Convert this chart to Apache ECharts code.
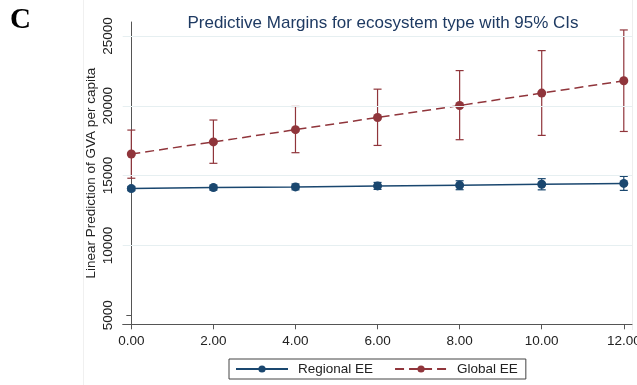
<!DOCTYPE html>
<html>
<head>
<meta charset="utf-8">
<script src="https://cdn.jsdelivr.net/npm/echarts@6/dist/echarts.min.js"></script>
<style>
html,body{margin:0;padding:0;background:#fff;}
#chart{width:637px;height:385px;}
</style>
</head>
<body>
<div id="chart"></div>
<script>
// ---- data ----
const xValues = [0, 2, 4, 6, 8, 10, 12];
const regionalEE = [14070, 14140, 14190, 14260, 14310, 14380, 14440];
const regionalLo = [13920, 13960, 13980, 14010, 13990, 13980, 13940];
const regionalHi = [14220, 14320, 14400, 14510, 14630, 14780, 14940];
const globalEE = [16550, 17410, 18290, 19160, 20020, 20910, 21790];
const globalLo = [14810, 15880, 16640, 17160, 17570, 17880, 18160];
const globalHi = [18260, 18980, 19950, 21190, 22520, 23950, 25430];
const xTicks = [0, 2, 4, 6, 8, 10, 12];
const yTicks = [5000, 10000, 15000, 20000, 25000];
const yGrid = [10000, 15000, 20000, 25000];

const BLUE = '#1a476f';
const RED = '#90353b';
const FONT = '"Liberation Sans", Arial, sans-serif';

function pairs(xs, ys) { return xs.map((x, i) => [x, ys[i]]); }
function ciData(xs, lo, hi) { return xs.map((x, i) => [x, lo[i], hi[i]]); }

function errRender(color) {
  return function (params, api) {
    const x = api.value(0);
    const p1 = api.coord([x, api.value(1)]);
    const p2 = api.coord([x, api.value(2)]);
    const hw = 4;
    const style = { stroke: color, lineWidth: 1.2, fill: null };
    return {
      type: 'group',
      children: [
        { type: 'line', shape: { x1: p1[0], y1: p1[1], x2: p2[0], y2: p2[1] }, style: style },
        { type: 'line', shape: { x1: p1[0] - hw, y1: p1[1], x2: p1[0] + hw, y2: p1[1] }, style: style },
        { type: 'line', shape: { x1: p2[0] - hw, y1: p2[1], x2: p2[0] + hw, y2: p2[1] }, style: style }
      ]
    };
  };
}

const chart = echarts.init(document.getElementById('chart'), null, { renderer: 'canvas' });
chart.setOption({
  animation: false,
  backgroundColor: '#ffffff',
  textStyle: { fontFamily: FONT },
  title: {
    text: 'Predictive Margins for ecosystem type with 95% CIs',
    left: 378, top: 10, textAlign: 'center',
    textStyle: { fontFamily: FONT, fontSize: 17, fontWeight: 'normal', color: '#1e3a62' }
  },
  graphic: [
    { type: 'text', left: 10, top: 6, style: { text: 'C', font: 'bold 29px "Liberation Serif", "Times New Roman", serif', fill: '#000' } },
    { type: 'line', shape: { x1: 83.5, y1: 0, x2: 83.5, y2: 385 }, style: { stroke: '#f0f0f0', lineWidth: 1 } },
    { type: 'line', shape: { x1: 632.5, y1: 0, x2: 632.5, y2: 330 }, style: { stroke: '#eeeeee', lineWidth: 1 } }
  ],
  grid: { left: 122.7, right: 5, top: 22, bottom: 60.7, containLabel: false, outerBoundsMode: 'none' },
  legend: {
    left: 229, top: 359,
    padding: [3, 8, 3, 6],
    borderColor: '#444', borderWidth: 1, borderRadius: 0,
    itemWidth: 52, itemHeight: 9, itemGap: 21,
    textStyle: { fontFamily: FONT, fontSize: 13.5, color: '#222', padding: [0, 0, 0, 5] },
    data: ['Regional EE', 'Global EE']
  },
  xAxis: {
    type: 'value', min: -0.21, max: 12.2,
    axisLine: { show: true, lineStyle: { color: '#555', width: 1 } },
    axisTick: { show: true, length: 5, customValues: xTicks, lineStyle: { color: '#555' } },
    axisLabel: { customValues: xTicks, margin: 10, fontSize: 13.5, color: '#222', fontFamily: FONT,
      hideOverlap: false, formatter: v => Number(v).toFixed(2) },
    splitLine: { show: false }
  },
  yAxis: {
    type: 'value', min: 4350, max: 26000,
    name: 'Linear Prediction of GVA per capita', nameLocation: 'middle', nameGap: 24,
    nameMoveOverlap: false,
    nameTextStyle: { fontFamily: FONT, fontSize: 13.5, color: '#222' },
    axisLine: { show: true, lineStyle: { color: '#555', width: 1 } },
    axisTick: { show: true, length: 5, customValues: yTicks, lineStyle: { color: '#555' } },
    axisLabel: { customValues: yTicks, rotate: 90, margin: 7, fontSize: 13.5, color: '#222', fontFamily: FONT,
      formatter: v => String(v) },
    splitLine: { show: false }
  },
  series: [
    {
      name: 'grid', type: 'line', data: [], z: 0, silent: true,
      markLine: {
        silent: true, symbol: 'none', label: { show: false },
        lineStyle: { color: '#e6eff1', width: 1.2, type: 'solid' },
        data: yGrid.map(v => ({ yAxis: v }))
      }
    },
    {
      name: 'Regional EE CI', type: 'custom', renderItem: errRender(BLUE),
      data: ciData(xValues, regionalLo, regionalHi), z: 3, silent: true
    },
    {
      name: 'Global EE CI', type: 'custom', renderItem: errRender(RED),
      data: ciData(xValues, globalLo, globalHi), z: 3, silent: true
    },
    {
      name: 'Regional EE', type: 'line', data: pairs(xValues, regionalEE),
      symbol: 'circle', symbolSize: 9, z: 4,
      lineStyle: { color: BLUE, width: 1.5 }, itemStyle: { color: BLUE }
    },
    {
      name: 'Global EE', type: 'line', data: pairs(xValues, globalEE),
      symbol: 'circle', symbolSize: 9, z: 4,
      lineStyle: { color: RED, width: 1.5, type: [9, 5] }, itemStyle: { color: RED }
    }
  ]
});
</script>
</body>
</html>
